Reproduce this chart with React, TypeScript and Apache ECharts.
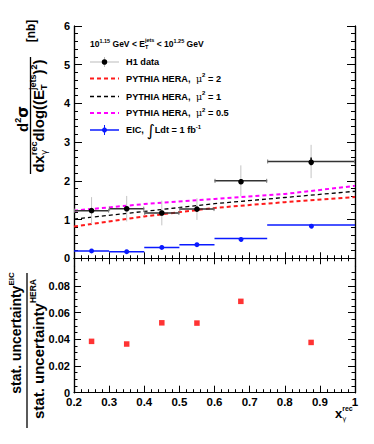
import React, { useEffect, useRef } from "react";
import * as echarts from "echarts";

// ---------- data ----------
const binLow = [0.2, 0.3, 0.4, 0.5, 0.6, 0.75];
const binHigh = [0.3, 0.4, 0.5, 0.6, 0.75, 1.0];
const binCenter = [0.25, 0.35, 0.45, 0.55, 0.675, 0.875];
const h1Values = [1.23, 1.28, 1.17, 1.27, 2.0, 2.5];
const h1TotalErr = [0.35, 0.33, 0.32, 0.28, 0.4, 0.43];
const h1StatErr = [0.05, 0.05, 0.06, 0.06, 0.05, 0.1];
const eicValues = [0.19, 0.17, 0.28, 0.35, 0.51, 0.86];
const pythiaX = [0.2, 0.4, 0.6, 0.8, 1.0];
const pythiaMu2 = [0.82, 1.08, 1.3, 1.45, 1.58];
const pythiaMu1 = [1.01, 1.21, 1.41, 1.57, 1.73];
const pythiaMu05 = [1.23, 1.4, 1.53, 1.66, 1.87];
const ratioValues = [0.0385, 0.0365, 0.0524, 0.0522, 0.0685, 0.0377];
const topYLabels = [0, 1, 2, 3, 4, 5, 6];
const bottomYLabels = [0, 0.02, 0.04, 0.06, 0.08];

const FONT = "Liberation Sans";
const RED = "#ff1a1a";
const BLUE = "#0a1aff";
const MAGENTA = "#ff00ff";

let _ctx: CanvasRenderingContext2D | null = null;
function tw(t: string, size: number, weight = "bold", fam = FONT) {
  if (!_ctx) _ctx = document.createElement("canvas").getContext("2d");
  _ctx!.font = `${weight} ${size}px "${fam}"`;
  return _ctx!.measureText(t).width;
}
type Piece = { t: string; s: number; dy?: number; w?: string; fam?: string; hold?: boolean; pad?: number; color?: string };
function runWidth(ps: Piece[]) {
  let x = 0, hw = 0;
  for (const p of ps) {
    const wd = tw(p.t, p.s, p.w ?? "bold", p.fam ?? FONT) + (p.pad ?? 0);
    if (p.hold) hw = Math.max(hw, wd);
    else { x += Math.max(wd, hw); hw = 0; }
  }
  return x;
}
function run(ps: Piece[], x0: number, base: number, color = "#000") {
  const els: any[] = [];
  let x = x0, hw = 0;
  for (const p of ps) {
    const w = p.w ?? "bold";
    const fam = p.fam ?? FONT;
    const wd = tw(p.t, p.s, w, fam) + (p.pad ?? 0);
    els.push({
      type: "text",
      x: x + (p.pad ?? 0),
      y: base + (p.dy ?? 0) - 0.35 * p.s,
      silent: true,
      style: { text: p.t, font: `${w} ${p.s}px "${fam}"`, fill: p.color ?? color, textAlign: "left", textVerticalAlign: "middle" },
    });
    if (p.hold) hw = Math.max(hw, wd);
    else { x += Math.max(wd, hw); hw = 0; }
  }
  return els;
}
function runCentered(ps: Piece[], cx: number, base: number) {
  return run(ps, cx - runWidth(ps) / 2, base);
}

function range(a: number, b: number, step: number, skipEvery: number) {
  const out: number[] = [];
  for (let k = a; k <= b; k++) if (k % skipEvery !== 0) out.push(+(k * step).toFixed(4));
  return out;
}

const labelStyle = { fontFamily: FONT, fontWeight: "bold" as const, fontSize: 11, color: "#000" };
const lineStyle = { color: "#000", width: 1.2 };

function yAxis(gridIndex: number, position: string, min: number, max: number, ticks: number[], len: number, labels: number[] | null) {
  return {
    type: "value", gridIndex, position, min, max,
    axisLine: { show: true, lineStyle },
    axisTick: { show: true, inside: true, length: len, customValues: ticks, lineStyle: { color: "#000", width: 1 } },
    axisLabel: labels ? { show: true, customValues: labels, margin: 4, ...labelStyle, formatter: (v: number) => String(+v.toFixed(3)) } : { show: false },
    splitLine: { show: false },
  };
}
function xAxis(gridIndex: number, position: string, len: number, labels: boolean) {
  return {
    type: "value", gridIndex, position, min: 0.2, max: 1, interval: 0.1,
    axisLine: { show: true, lineStyle },
    axisTick: { show: true, inside: true, length: len, lineStyle: { color: "#000", width: 1 } },
    minorTick: { show: true, splitNumber: 5, length: len / 2, lineStyle: { color: "#000", width: 1 } },
    axisLabel: labels ? { show: true, margin: 3, ...labelStyle, fontSize: 11.5, formatter: (v: number) => String(+v.toFixed(2)) } : { show: false },
    splitLine: { show: false },
  };
}

function buildGraphic() {
  const els: any[] = [];
  const LS = 9.2; // legend font size
  // legend header
  els.push(...run([
    { t: "10", s: 8.5 }, { t: "1.15", s: 5.5, dy: -3.7 }, { t: " GeV < E", s: 8.5 },
    { t: "T", s: 5.5, dy: 2, hold: true }, { t: "jets", s: 5.5, dy: -4.7 },
    { t: " < 10", s: 8.5 }, { t: "1.25", s: 5.5, dy: -3.7 }, { t: " GeV", s: 8.5 },
  ], 90, 46.5));
  const rows = [62, 78.5, 96.5, 113, 130];
  // H1 entry
  els.push({ type: "line", silent: true, shape: { x1: 90, y1: rows[0], x2: 119, y2: rows[0] }, style: { stroke: "#bbbbbb", lineWidth: 1 } });
  els.push({ type: "line", silent: true, shape: { x1: 104.5, y1: rows[0] - 5, x2: 104.5, y2: rows[0] + 5 }, style: { stroke: "#bbbbbb", lineWidth: 1 } });
  els.push({ type: "circle", silent: true, shape: { cx: 104.5, cy: rows[0], r: 2.8 }, style: { fill: "#000" } });
  els.push(...run([{ t: "H1 data", s: LS }], 126, rows[0] + 3.3));
  const pyth = [
    { c: RED, w: 2, mu: "2" },
    { c: "#000", w: 1.3, mu: "1" },
    { c: MAGENTA, w: 2, mu: "0.5" },
  ];
  pyth.forEach((p, i) => {
    const y = rows[i + 1];
    els.push({ type: "line", silent: true, shape: { x1: 90, y1: y, x2: 119, y2: y }, style: { stroke: p.c, lineWidth: p.w, lineDash: [4, 3] } });
    els.push(...run([
      { t: "PYTHIA HERA,  ", s: LS }, { t: "μ", s: 9.5, w: "normal", fam: "DejaVu Serif" }, { t: "2", s: 6, dy: -4.5 },
      { t: " = " + p.mu, s: LS },
    ], 126, y + 3.3));
  });
  // EIC entry
  const ye = rows[4];
  els.push({ type: "line", silent: true, shape: { x1: 90, y1: ye, x2: 119, y2: ye }, style: { stroke: BLUE, lineWidth: 1.5 } });
  els.push({ type: "line", silent: true, shape: { x1: 104.5, y1: ye - 5, x2: 104.5, y2: ye + 5 }, style: { stroke: BLUE, lineWidth: 1 } });
  els.push({ type: "circle", silent: true, shape: { cx: 104.5, cy: ye, r: 2.5 }, style: { fill: BLUE } });
  els.push(...run([
    { t: "EIC, ", s: LS }, { t: "∫", s: 16, w: "normal", fam: "DejaVu Sans", dy: 3 }, { t: "Ldt = 1 fb", s: LS }, { t: "-1", s: 6, dy: -4.5 },
  ], 126, ye + 3.3));

  // top y title (rotated)
  const topTitle: any[] = [];
  topTitle.push(...runCentered([{ t: "d", s: 15 }, { t: "2", s: 9, dy: -6.5 }, { t: "σ", s: 15, fam: "DejaVu Sans" }], -119, 28));
  topTitle.push(...runCentered([
    { t: "dx", s: 15 }, { t: "γ", s: 9, dy: 3, hold: true, fam: "DejaVu Sans", w: "normal" }, { t: "rec", s: 9, dy: -7 },
    { t: "dlog((E", s: 15 }, { t: "T", s: 9, dy: 3, hold: true }, { t: "jets", s: 9, dy: -7.5 },
    { t: ")", s: 15 }, { t: "2", s: 9, dy: -7 }, { t: ")", s: 15 },
  ], -116, 44));
  topTitle.push({ type: "line", silent: true, shape: { x1: -174, y1: 30.5, x2: -57, y2: 30.5 }, style: { stroke: "#000", lineWidth: 1.3 } });
  topTitle.push(...runCentered([{ t: "[nb]", s: 12 }], -31, 35));
  els.push({ type: "group", x: 0, y: 0, rotation: Math.PI / 2, children: topTitle });

  // bottom y title (rotated)
  const botTitle: any[] = [];
  botTitle.push(...runCentered([{ t: "stat. uncertainty", s: 14 }, { t: "EIC", s: 8, dy: -7 }], -333, 21));
  botTitle.push(...runCentered([{ t: "stat. uncertainty", s: 15 }, { t: "HERA", s: 8.5, dy: -8 }], -349, 44));
  botTitle.push({ type: "line", silent: true, shape: { x1: -428, y1: 27, x2: -273, y2: 27 }, style: { stroke: "#000", lineWidth: 1.3 } });
  els.push({ type: "group", x: 0, y: 0, rotation: Math.PI / 2, children: botTitle });

  // x title
  els.push(...run([{ t: "x", s: 13 }, { t: "γ", s: 7, dy: 3, hold: true, fam: "DejaVu Sans", w: "normal" }, { t: "rec", s: 7, dy: -7 }], 335, 418));
  return els;
}

export default function App() {
  const ref = useRef<HTMLDivElement>(null);
  useEffect(() => {
    if (!ref.current) return;
    const chart = echarts.init(ref.current, null, { renderer: "svg" });
    const h1Data = binCenter.map((c, i) => [binLow[i], binHigh[i], c, h1Values[i], h1TotalErr[i], h1StatErr[i]]);
    const eicData = binCenter.map((c, i) => [binLow[i], binHigh[i], c, eicValues[i]]);
    const ratioData = binCenter.map((c, i) => [c, ratioValues[i]]);
    const mk = (ys: number[]) => pythiaX.map((x, i) => [x, ys[i]]);

    const topMajor = topYLabels;
    const topMinor = range(1, 29, 0.2, 5);
    const botMajor = bottomYLabels;
    const botMinor = range(1, 18, 0.005, 4);

    chart.setOption({
      animation: false,
      backgroundColor: "#fff",
      grid: [
        { left: 74, top: 26, width: 281, height: 240 },
        { left: 74, top: 266, width: 281, height: 126.7 },
      ],
      xAxis: [
        xAxis(0, "bottom", 6, false),
        xAxis(0, "top", 6, false),
        xAxis(1, "bottom", 7, true),
      ],
      yAxis: [
        yAxis(0, "left", -0.2, 6, topMajor, 8, topYLabels),
        yAxis(0, "left", -0.2, 6, topMinor, 4, null),
        yAxis(0, "right", -0.2, 6, topMajor, 8, null),
        yAxis(0, "right", -0.2, 6, topMinor, 4, null),
        yAxis(1, "left", 0, 0.095, botMajor, 7, bottomYLabels),
        yAxis(1, "left", 0, 0.095, botMinor, 3.5, null),
        yAxis(1, "right", 0, 0.095, botMajor, 7, null),
        yAxis(1, "right", 0, 0.095, botMinor, 3.5, null),
      ],
      series: [
        {
          type: "custom", xAxisIndex: 0, yAxisIndex: 0, data: eicData, encode: { x: [0, 1, 2], y: 3 }, z: 3,
          renderItem: (_p: any, api: any) => {
            const y = api.value(3);
            const a = api.coord([api.value(0), y]);
            const b = api.coord([api.value(1), y]);
            const c = api.coord([api.value(2), y]);
            return {
              type: "group", children: [
                { type: "line", shape: { x1: a[0], y1: a[1], x2: b[0], y2: b[1] }, style: { stroke: BLUE, lineWidth: 1.5 } },
                { type: "circle", shape: { cx: c[0], cy: c[1], r: 2.5 }, style: { fill: BLUE } },
              ],
            };
          },
        },
        { type: "line", xAxisIndex: 0, yAxisIndex: 0, data: mk(pythiaMu2), showSymbol: false, symbol: "none", lineStyle: { color: RED, width: 2, type: [4, 3] }, z: 2 },
        { type: "line", xAxisIndex: 0, yAxisIndex: 0, data: mk(pythiaMu1), showSymbol: false, symbol: "none", lineStyle: { color: "#000", width: 1.3, type: [4, 3] }, z: 2 },
        { type: "line", xAxisIndex: 0, yAxisIndex: 0, data: mk(pythiaMu05), showSymbol: false, symbol: "none", lineStyle: { color: MAGENTA, width: 2, type: [4, 3] }, z: 2 },
        {
          type: "custom", xAxisIndex: 0, yAxisIndex: 0, data: h1Data, encode: { x: [0, 1, 2], y: 3 }, z: 4,
          renderItem: (_p: any, api: any) => {
            const y = api.value(3), et = api.value(4), es = api.value(5), xc = api.value(2);
            const a = api.coord([api.value(0), y]);
            const b = api.coord([api.value(1), y]);
            const c = api.coord([xc, y]);
            const t1 = api.coord([xc, y + et]), t2 = api.coord([xc, y - et]);
            const s1 = api.coord([xc, y + es]), s2 = api.coord([xc, y - es]);
            return {
              type: "group", children: [
                { type: "line", shape: { x1: t1[0], y1: t1[1], x2: t2[0], y2: t2[1] }, style: { stroke: "#c4c4c4", lineWidth: 1 } },
                { type: "line", shape: { x1: a[0], y1: a[1], x2: b[0], y2: b[1] }, style: { stroke: "#333", lineWidth: 1.5 } },
                { type: "line", shape: { x1: a[0] + 0.5, y1: a[1] - 2, x2: a[0] + 0.5, y2: a[1] + 2 }, style: { stroke: "#777", lineWidth: 1 } },
                { type: "line", shape: { x1: b[0] - 0.5, y1: b[1] - 2, x2: b[0] - 0.5, y2: b[1] + 2 }, style: { stroke: "#777", lineWidth: 1 } },
                { type: "line", shape: { x1: s1[0], y1: s1[1], x2: s2[0], y2: s2[1] }, style: { stroke: "#000", lineWidth: 1.5 } },
                { type: "circle", shape: { cx: c[0], cy: c[1], r: 2.8 }, style: { fill: "#000" } },
              ],
            };
          },
        },
        { type: "scatter", xAxisIndex: 2, yAxisIndex: 4, data: ratioData, symbol: "rect", symbolSize: 5.5, itemStyle: { color: "#ff0000" } },
      ],
      graphic: buildGraphic(),
    });
    return () => chart.dispose();
  }, []);
  return <div ref={ref} style={{ position: "fixed", left: 0, top: 0, width: 374, height: 444, background: "#fff" }} />;
}
